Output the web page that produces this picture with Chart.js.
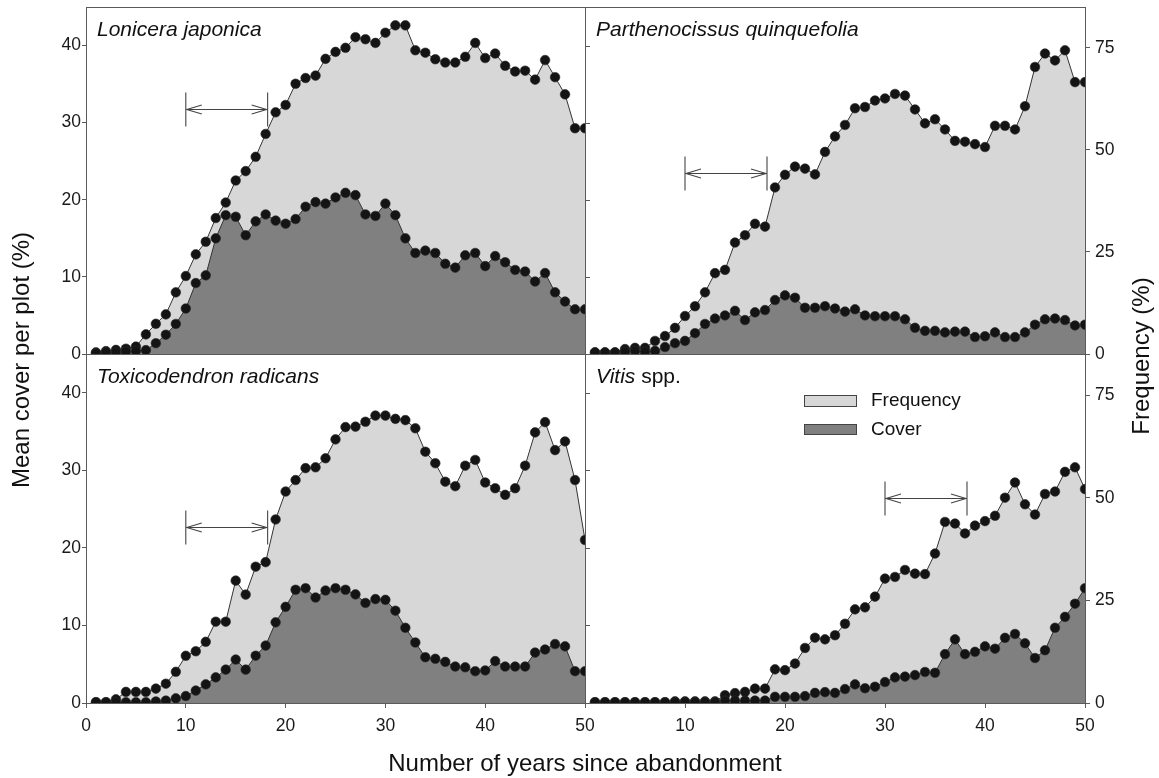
<!DOCTYPE html>
<html>
<head>
<meta charset="utf-8">
<script src="https://cdn.jsdelivr.net/npm/chart.js@4.4.0/dist/chart.umd.min.js"></script>
<style>
  body { margin: 0; background: #fff; }
  .painel { position: absolute; left: 0; top: 0; }
</style>
</head>
<body>
<canvas id="p0" class="painel" width="1159" height="778"></canvas>
<canvas id="p1" class="painel" width="1159" height="778"></canvas>
<canvas id="p2" class="painel" width="1159" height="778"></canvas>
<canvas id="p3" class="painel" width="1159" height="778"></canvas>
<script>
// Anos desde o abandono (eixo x)
const anos = [1, 2, 3, 4, 5, 6, 7, 8, 9, 10, 11, 12, 13, 14, 15, 16, 17, 18, 19, 20,
  21, 22, 23, 24, 25, 26, 27, 28, 29, 30, 31, 32, 33, 34, 35, 36, 37, 38, 39, 40,
  41, 42, 43, 44, 45, 46, 47, 48, 49, 50];

// Nomes das especies (parte em italico, parte normal)
const especies = [['Lonicera japonica', ''], ['Parthenocissus quinquefolia', ''],
  ['Toxicodendron radicans', ''], ['Vitis', ' spp.']];

// Frequencia (%) e cobertura media (%) de cada especie
const loniceraFreq = [0.4, 0.7, 1.0, 1.3, 1.8, 4.8, 7.4, 9.7, 15.1, 19.1, 24.4, 27.5, 33.3, 37.1, 42.5, 44.8, 48.3, 53.9, 59.2, 61.0,
  66.2, 67.6, 68.2, 72.3, 74.0, 75.0, 77.6, 77.1, 76.2, 78.7, 80.5, 80.5, 74.4, 73.8, 72.2, 71.4, 71.4, 72.8, 76.2, 72.5,
  73.6, 70.6, 69.2, 69.4, 67.2, 72.0, 67.8, 63.6, 55.3, 55.3];
const loniceraCover = [0.1, 0.2, 0.2, 0.3, 0.4, 0.5, 1.4, 2.5, 3.9, 5.9, 9.2, 10.2, 15.0, 18.0, 17.8, 15.4, 17.2, 18.1, 17.3, 16.9,
  17.5, 19.1, 19.7, 19.5, 20.3, 20.9, 20.6, 18.1, 17.9, 19.5, 18.0, 15.0, 13.1, 13.4, 13.1, 11.7, 11.2, 12.8, 13.1, 11.4,
  12.7, 11.9, 10.9, 10.7, 9.4, 10.5, 8.0, 6.8, 5.8, 5.8];
const parthFreq = [0.4, 0.4, 0.4, 1.2, 1.5, 1.5, 3.2, 4.4, 6.4, 9.3, 11.7, 15.1, 19.8, 20.6, 27.3, 29.1, 31.9, 31.2, 40.8, 43.9,
  45.9, 45.4, 44.0, 49.5, 53.3, 56.1, 60.2, 60.5, 62.1, 62.6, 63.7, 63.3, 59.9, 56.5, 57.5, 55.0, 52.2, 52.0, 51.4, 50.7,
  55.9, 55.9, 55.0, 60.7, 70.3, 73.6, 71.9, 74.4, 66.6, 66.6];
const parthCover = [0.2, 0.2, 0.2, 0.3, 0.4, 0.3, 0.4, 0.9, 1.4, 1.7, 2.7, 3.9, 4.6, 5.0, 5.6, 4.4, 5.4, 5.7, 7.0, 7.6,
  7.3, 6.0, 6.0, 6.2, 5.9, 5.5, 5.8, 5.0, 4.9, 4.9, 4.9, 4.5, 3.4, 3.0, 3.0, 2.8, 2.9, 2.9, 2.2, 2.3,
  2.8, 2.2, 2.2, 2.8, 3.8, 4.5, 4.6, 4.4, 3.7, 3.8];
const toxFreq = [0.2, 0.2, 0.9, 2.7, 2.7, 2.7, 3.5, 4.7, 7.6, 11.5, 12.6, 14.9, 19.8, 19.8, 29.8, 26.4, 33.2, 34.3, 44.7, 51.5,
  54.3, 57.2, 57.4, 59.6, 64.2, 67.2, 67.3, 68.5, 70.0, 70.0, 69.2, 68.9, 66.9, 61.2, 58.4, 53.9, 52.8, 57.8, 59.2, 53.7,
  52.3, 50.7, 52.3, 57.8, 65.9, 68.4, 61.6, 63.7, 54.3, 39.7];
const toxCover = [0.1, 0.1, 0.1, 0.1, 0.1, 0.1, 0.2, 0.3, 0.6, 0.9, 1.6, 2.4, 3.3, 4.3, 5.6, 4.3, 6.1, 7.4, 10.4, 12.4,
  14.6, 14.8, 13.6, 14.5, 14.8, 14.6, 14.0, 12.9, 13.4, 13.3, 11.9, 9.7, 7.8, 5.9, 5.7, 5.3, 4.7, 4.6, 4.1, 4.2,
  5.4, 4.7, 4.7, 4.7, 6.5, 6.9, 7.6, 7.3, 4.1, 4.1];
const vitisFreq = [0.2, 0.2, 0.2, 0.2, 0.2, 0.2, 0.2, 0.2, 0.4, 0.4, 0.4, 0.4, 0.4, 1.9, 2.4, 2.7, 3.5, 3.5, 8.2, 8.0,
  9.6, 13.4, 15.9, 15.5, 16.5, 19.3, 22.8, 23.3, 25.9, 30.3, 30.7, 32.4, 31.5, 31.4, 36.4, 44.1, 43.7, 41.3, 43.2, 44.3,
  45.6, 50.0, 53.7, 48.4, 45.9, 50.9, 51.5, 56.3, 57.4, 52.1];
const vitisCover = [0.1, 0.1, 0.1, 0.1, 0.1, 0.1, 0.1, 0.1, 0.1, 0.1, 0.1, 0.1, 0.1, 0.3, 0.3, 0.3, 0.3, 0.3, 0.8, 0.8,
  0.8, 0.9, 1.3, 1.4, 1.3, 1.8, 2.4, 1.9, 2.1, 2.7, 3.3, 3.4, 3.6, 4.0, 3.9, 6.3, 8.2, 6.3, 6.6, 7.3,
  7.0, 8.4, 8.9, 7.7, 5.8, 6.8, 9.7, 11.1, 12.8, 14.8];

// Setas: inicio e fim (anos) e altura (cobertura %)
const setaInicio = [10, 10, 10, 30];
const setaFim = [18.2, 18.2, 18.2, 38.2];
const setaAltura = [31.8, 23.5, 22.7, 26.4];

// Rotulos dos eixos
const ticksXEsq = [0, 10, 20, 30, 40, 50];
const ticksXDir = [10, 20, 30, 40, 50];
const ticksCover = [0, 10, 20, 30, 40];
const ticksFreq = [0, 25, 50, 75];

Chart.defaults.font.family = "'Liberation Sans', Arial, sans-serif";
Chart.defaults.color = '#1a1a1a';

const W = 1159, H = 778;
const corLinha = '#5a5a5a';

// Zera o padding extra que os eixos pedem ao layout
function zerar(s) {
  s.paddingTop = 0; s.paddingBottom = 0; s.paddingLeft = 0; s.paddingRight = 0;
}

function pontos(valores) {
  return anos.map((a, i) => ({ x: a, y: valores[i] }));
}

// Desenha moldura, nome da especie, seta, legenda e titulos dos eixos
const decor = {
  id: 'decor',
  afterDatasetsDraw(chart, args, o) {
    const { ctx, chartArea: a, scales } = chart;
    ctx.save();
    ctx.strokeStyle = corLinha;
    ctx.lineWidth = 1;
    ctx.strokeRect(a.left + 0.5, a.top + 0.5, a.right - a.left, a.bottom - a.top);

    // marcas internas no lado esquerdo dos paineis da direita
    if (o.marcasInternas) {
      ctx.beginPath();
      ticksCover.forEach(v => {
        const y = Math.round(scales.y.getPixelForValue(v)) + 0.5;
        ctx.moveTo(a.left, y); ctx.lineTo(a.left + 5, y);
      });
      ctx.stroke();
    }

    // nome da especie
    ctx.fillStyle = '#111';
    ctx.textBaseline = 'alphabetic';
    ctx.textAlign = 'left';
    ctx.font = "italic 21px 'Liberation Sans', Arial, sans-serif";
    const nome = especies[o.especie];
    ctx.fillText(nome[0], a.left + 11, a.top + 29);
    if (nome[1]) {
      const w = ctx.measureText(nome[0]).width;
      ctx.font = "21px 'Liberation Sans', Arial, sans-serif";
      ctx.fillText(nome[1], a.left + 11 + w, a.top + 29);
    }

    // seta dupla
    const i = o.especie;
    const x1 = scales.x.getPixelForValue(setaInicio[i]);
    const x2 = scales.x.getPixelForValue(setaFim[i]);
    const y = Math.round(scales.y.getPixelForValue(setaAltura[i])) + 0.5;
    ctx.strokeStyle = '#444';
    ctx.lineWidth = 1.1;
    ctx.beginPath();
    ctx.moveTo(x1, y - 17); ctx.lineTo(x1, y + 17);
    ctx.moveTo(x2, y - 17); ctx.lineTo(x2, y + 17);
    ctx.moveTo(x1 + 1, y); ctx.lineTo(x2 - 1, y);
    ctx.moveTo(x1 + 16, y - 4.5); ctx.lineTo(x1 + 1, y); ctx.lineTo(x1 + 16, y + 4.5);
    ctx.moveTo(x2 - 16, y - 4.5); ctx.lineTo(x2 - 1, y); ctx.lineTo(x2 - 16, y + 4.5);
    ctx.stroke();

    // legenda
    if (o.legenda) {
      ctx.lineWidth = 1;
      ctx.strokeStyle = '#444';
      ctx.fillStyle = '#d7d7d7';
      ctx.fillRect(a.left + 219.5, a.top + 41.5, 52, 11);
      ctx.strokeRect(a.left + 219.5, a.top + 41.5, 52, 11);
      ctx.fillStyle = '#808080';
      ctx.fillRect(a.left + 219.5, a.top + 70.5, 52, 10);
      ctx.strokeRect(a.left + 219.5, a.top + 70.5, 52, 10);
      ctx.fillStyle = '#111';
      ctx.font = "19px 'Liberation Sans', Arial, sans-serif";
      ctx.textBaseline = 'middle';
      ctx.fillText('Frequency', a.left + 286, a.top + 47);
      ctx.fillText('Cover', a.left + 286, a.top + 76);
    }

    // titulos dos eixos (uma vez so)
    if (o.titulos) {
      ctx.fillStyle = '#111';
      ctx.font = "24px 'Liberation Sans', Arial, sans-serif";
      ctx.textAlign = 'center';
      ctx.textBaseline = 'middle';
      ctx.fillText('Number of years since abandonment', 585, 764);
      ctx.save();
      ctx.translate(22, 360);
      ctx.rotate(-Math.PI / 2);
      ctx.fillText('Mean cover per plot (%)', 0, 0);
      ctx.restore();
      ctx.save();
      ctx.translate(1142, 356);
      ctx.rotate(-Math.PI / 2);
      ctx.fillText('Frequency (%)', 0, 0);
      ctx.restore();
    }
    ctx.restore();
  }
};

// Configuracao dos quatro paineis
const paineis = [
  { id: 'p0', freq: loniceraFreq, cover: loniceraCover, area: [86, 585, 7, 354], esq: true, dir: false, eixoX: null },
  { id: 'p1', freq: parthFreq, cover: parthCover, area: [585, 1085, 7, 354], esq: false, dir: true, eixoX: null },
  { id: 'p2', freq: toxFreq, cover: toxCover, area: [86, 585, 354, 703], esq: true, dir: false, eixoX: ticksXEsq },
  { id: 'p3', freq: vitisFreq, cover: vitisCover, area: [585, 1085, 354, 703], esq: false, dir: true, eixoX: ticksXDir }
];

paineis.forEach((p, n) => {
  const [l, r, t, b] = p.area;
  const ctx = document.getElementById(p.id).getContext('2d');
  new Chart(ctx, {
    type: 'line',
    data: {
      datasets: [{
        label: 'Cover',
        data: pontos(p.cover),
        yAxisID: 'y',
        fill: 'origin',
        backgroundColor: '#808080',
        borderColor: '#333',
        borderWidth: 1,
        pointRadius: 4.8,
        pointBackgroundColor: '#141414',
        pointBorderColor: '#2a2a2a',
        pointBorderWidth: 0.6
      }, {
        label: 'Frequency',
        data: pontos(p.freq),
        yAxisID: 'y2',
        fill: 'origin',
        backgroundColor: '#d7d7d7',
        borderColor: '#333',
        borderWidth: 1,
        pointRadius: 4.8,
        pointBackgroundColor: '#141414',
        pointBorderColor: '#2a2a2a',
        pointBorderWidth: 0.6
      }]
    },
    options: {
      responsive: false,
      animation: false,
      events: [],
      layout: {
        padding: {
          left: l - (p.esq ? 40 : 0),
          right: W - r - (p.dir ? 40 : 0),
          top: t,
          bottom: H - b - (p.eixoX ? 30 : 0)
        }
      },
      plugins: {
        legend: { display: false },
        tooltip: { enabled: false },
        decor: { especie: n, legenda: n === 3, titulos: n === 2, marcasInternas: p.dir }
      },
      scales: {
        x: {
          type: 'linear',
          min: 0,
          max: 50,
          display: !!p.eixoX,
          afterBuildTicks: s => { s.ticks = (p.eixoX || []).map(v => ({ value: v })); },
          afterFit: s => { if (s.options.display) s.height = 30; zerar(s); },
          grid: { drawOnChartArea: false, tickLength: 5, color: corLinha },
          border: { display: false },
          ticks: { padding: 8, font: { size: 17.5 }, maxRotation: 0 }
        },
        y: {
          position: 'left',
          min: 0,
          max: 45,
          display: p.esq,
          afterBuildTicks: s => { s.ticks = ticksCover.map(v => ({ value: v })); },
          afterFit: s => { if (s.options.display) s.width = 40; zerar(s); },
          grid: { drawOnChartArea: false, tickLength: 4, color: corLinha },
          border: { display: false },
          ticks: { padding: 1, font: { size: 17.5 } }
        },
        y2: {
          position: 'right',
          min: 0,
          max: 85,
          display: p.dir,
          afterBuildTicks: s => { s.ticks = ticksFreq.map(v => ({ value: v })); },
          afterFit: s => { if (s.options.display) s.width = 40; zerar(s); },
          grid: { drawOnChartArea: false, tickLength: 5, color: corLinha },
          border: { display: false },
          ticks: { padding: 5, font: { size: 17.5 } }
        }
      }
    },
    plugins: [decor]
  });
});
</script>
</body>
</html>
